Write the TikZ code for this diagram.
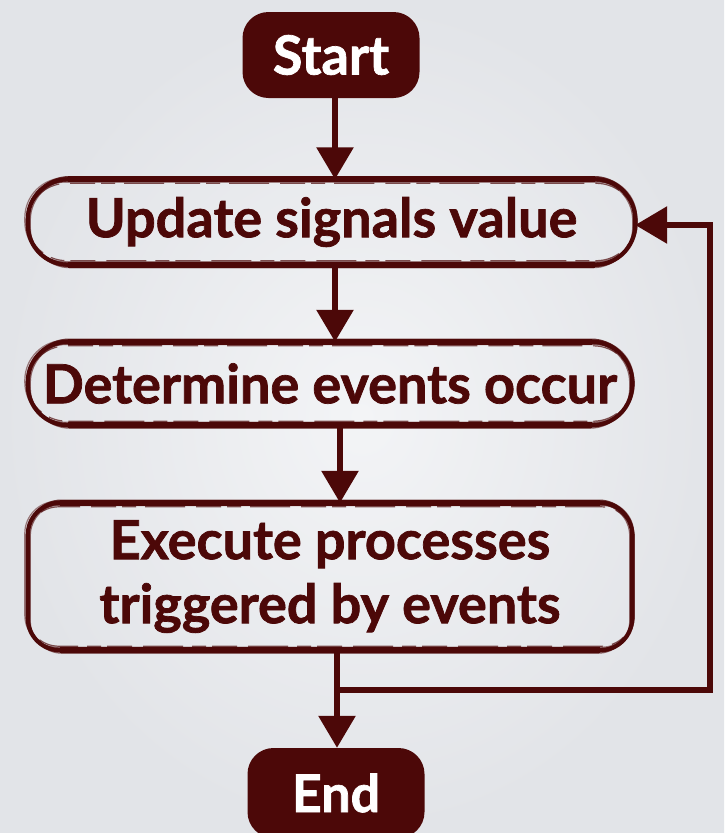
\documentclass[tikz,border=0pt]{standalone}
\usepackage{fontspec}
\setmainfont{Lato}[BoldFeatures={FakeBold=1.3}]
\usetikzlibrary{arrows.meta,calc}
\definecolor{maroon}{RGB}{76,8,8}
\definecolor{bgin}{RGB}{243,244,246}
\definecolor{bgout}{RGB}{226,228,232}

% hand-drawn looking outline around a named node
\newcommand\roughbox[2]{%
  \foreach \dx/\dy/\ex/\ey/\w/\o in {0/0/0/0/4.2/1, 1.5/-2.5/-1/1.5/1.6/0.8, -1.5/2.5/2/-2/1.4/0.7, 2.5/1/-2.5/3/1.2/0.6, -3/-1.5/1.5/-3/1.2/0.5}{%
    \draw[maroon, line width=\w pt, opacity=\o, rounded corners=#2]
      ($(#1.north west)+(\dx,\dy)$) rectangle ($(#1.south east)+(\ex,\ey)$);
  }%
  \draw[maroon, line width=1.2pt, opacity=0.7, rounded corners=#2,
        dash pattern=on 40pt off 9pt on 14pt off 6pt on 25pt off 11pt]
    ($(#1.north west)+(-1,4)$) rectangle ($(#1.south east)+(1,-4)$);
  \draw[maroon, line width=6pt] ($(#1.north west)+(#2,0)$) -- ($(#1.north east)+(-#2,0)$);
  \draw[maroon, line width=6pt] ($(#1.south west)+(#2,0)$) -- ($(#1.south east)+(-#2,0)$);
}

\tikzset{
  term/.style={draw=none, fill=maroon, text=white, rounded corners=26pt,
    minimum width=177pt},
  stage/.style={text=maroon, align=center, inner sep=0pt,
    font=\fontsize{54}{64}\selectfont\bfseries},
  arr/.style={maroon, line width=6pt,
    -{Triangle[width=36pt,length=32pt]}},
}

\begin{document}
\begin{tikzpicture}[x=1pt,y=-1pt]
  \shade[inner color=bgin, outer color=bgout] (0,0) rectangle (724,833);
  \useasboundingbox (0,0) rectangle (724,833);

  \node[term, minimum height=86pt, font=\fontsize{54}{60}\selectfont\bfseries] (start) at (331,55) {Start};
  \node[stage, minimum width=607pt, minimum height=85pt] (upd) at (331.5,222) {Update signals value};
  \node[stage, minimum width=604pt, minimum height=83pt] (det) at (330,383.5) {Determine events occur};
  \node[stage, minimum width=604pt, minimum height=147pt] (exe) at (330,576.5) {Execute processes\\triggered by events};
  \node[term, minimum height=90pt, font=\fontsize{52}{60}\selectfont\bfseries] (end) at (336,793) {End};

  \roughbox{upd}{40}
  \roughbox{det}{40}
  \roughbox{exe}{32}

  \draw[arr] (start.south -| 335,0) -- (upd.north -| 335,0);
  \draw[arr] (upd.south -| 335,0) -- (det.north -| 335,0);
  \draw[arr] (det.south -| 340,0) -- (exe.north -| 340,0);
  \draw[arr] (exe.south -| 337,0) -- (end.north -| 337,0);

  \coordinate (split) at (337,690);
  \coordinate (corner1) at (710,690);
  \coordinate (corner2) at (710,225);
  \draw[arr] (split) -- (corner1) -- (corner2) -- (upd.east |- corner2);
\end{tikzpicture}
\end{document}
